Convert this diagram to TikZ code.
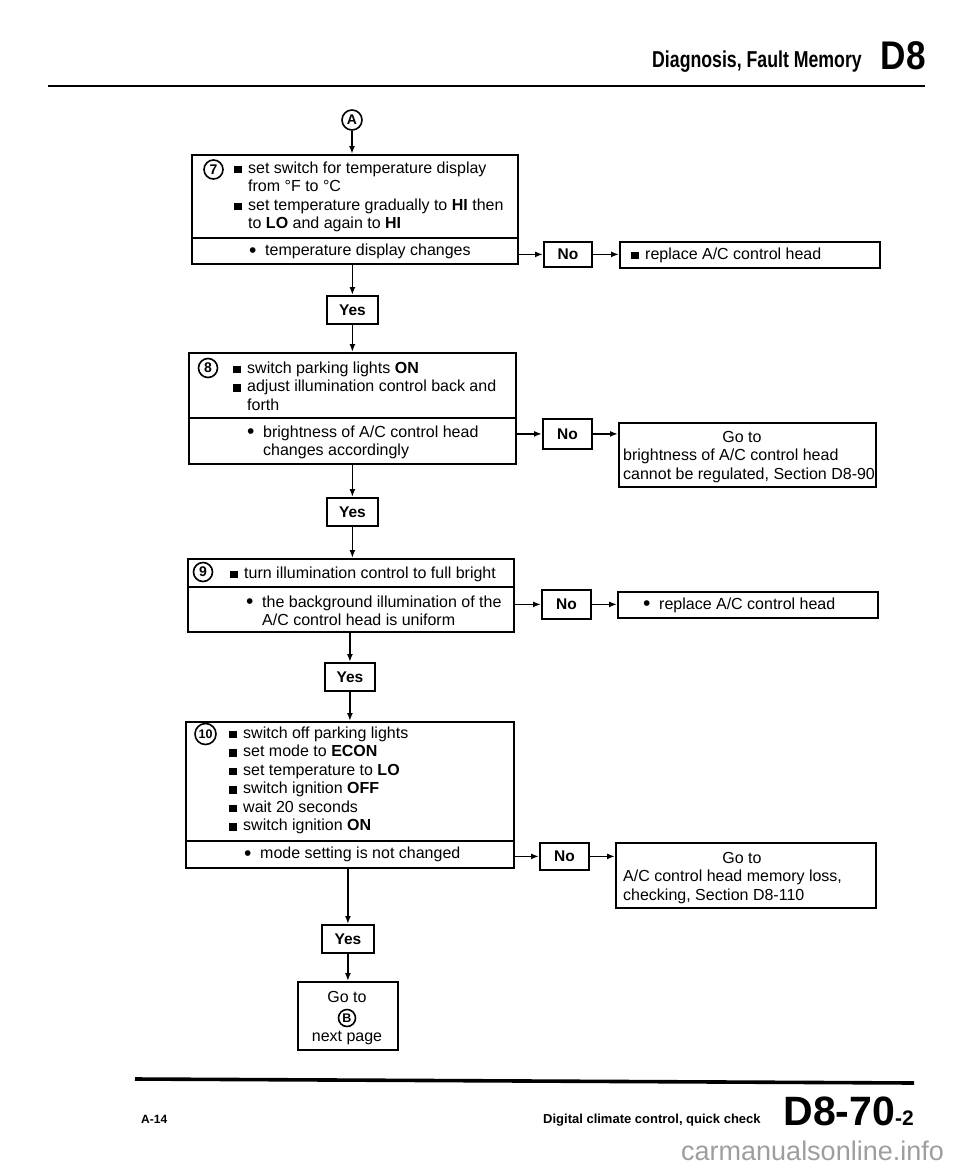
\documentclass[tikz,border=0pt]{standalone}
\usepackage{fontspec}
\setmainfont{Liberation Sans}
\usetikzlibrary{arrows.meta}
\newcommand\bodyfnt{\fontsize{16}{18.5}\selectfont}
\newcommand\sqb{\rule[0pt]{7.5pt}{7.5pt}}
\newcommand\sqitem{\makebox[14pt][l]{\sqb}}
\newcommand\rditem{\makebox[16pt][l]{\raisebox{-1.6pt}{\fontsize{21}{18}\selectfont•}}}
\begin{document}
\begin{tikzpicture}[x=1pt,y=-1pt,
  box/.style={draw, line width=1.8pt, inner sep=0pt, anchor=north west},
  ln/.style={anchor=base west, inner sep=0pt, font=\bodyfnt},
  cln/.style={anchor=base, inner sep=0pt, font=\bodyfnt},
  yn/.style={draw, line width=1.8pt, inner sep=0pt, font=\fontsize{15.5}{18}\selectfont\bfseries},
  num/.style={draw, circle, line width=1.6pt, inner sep=0pt, minimum size=19pt, font=\fontsize{14}{15}\selectfont\bfseries},
  arr/.style={line width=1.6pt, -{Latex[length=8pt,width=6pt]}}
]
\useasboundingbox (0,0) rectangle (960,1170);
\fill[white] (0,0) rectangle (960,1170);

% header
\coordinate (hl) at (48,86);
\coordinate (hr) at (925,86);
\draw[line width=2.6pt] (hl) -- (hr);
\node[anchor=base east, inner sep=0pt, font=\fontsize{23}{26}\selectfont\bfseries] (title) at (862,67) {\scalebox{0.77}[1]{Diagnosis, Fault Memory}};
\node[anchor=base east, inner sep=0pt, font=\fontsize{40}{42}\selectfont\bfseries] (d8) at (926,69) {\scalebox{0.88}[1]{D8}};

% start connector A
\node[num, minimum size=20pt, font=\fontsize{14}{15}\selectfont\bfseries] (A) at (352,120) {A};

% ---------- step 7
\node[box, minimum width=326pt, minimum height=83pt] (b7) at (191,154) {};
\node[box, minimum width=326pt, minimum height=26pt] (r7) at (191,237) {};
\node[num] (n7) at (213.5,169.5) {7};
\node[ln] (t7a) at (234,173) {\sqitem set switch for temperature display};
\node[ln] (t7b) at (248,191.5) {from °F to °C};
\node[ln] (t7c) at (234,210) {\sqitem set temperature gradually to \textbf{HI} then};
\node[ln] (t7d) at (248,228.5) {to \textbf{LO} and again to \textbf{HI}};
\node[ln] (t7r) at (249,255.5) {\rditem temperature display changes};

\node[yn, minimum width=48pt, minimum height=25pt, anchor=north west] (no1) at (543,241) {No};
\node[box, minimum width=260pt, minimum height=26pt] (rep1) at (619,241) {};
\node[ln] (rep1t) at (631,259) {\sqitem replace A/C control head};

\node[yn, minimum width=51pt, minimum height=28pt, anchor=north west] (yes1) at (326,295) {Yes};

% ---------- step 8
\node[box, minimum width=327pt, minimum height=65pt] (b8) at (188,352) {};
\node[box, minimum width=327pt, minimum height=46pt] (r8) at (188,417) {};
\node[num] (n8) at (208,368) {8};
\node[ln] (t8a) at (233,373) {\sqitem switch parking lights \textbf{ON}};
\node[ln] (t8b) at (233,391.5) {\sqitem adjust illumination control back and};
\node[ln] (t8c) at (247,410) {forth};
\node[ln] (t8r) at (247,437) {\rditem brightness of A/C control head};
\node[ln] (t8s) at (263,455.5) {changes accordingly};

\node[yn, minimum width=49pt, minimum height=30pt, anchor=north west] (no2) at (542,418) {No};
\node[box, minimum width=257pt, minimum height=64pt] (go1) at (618,422) {};
\node[cln] (go1a) at (742,442) {Go to};
\node[ln] (go1b) at (623,460.5) {brightness of A/C control head};
\node[ln] (go1c) at (623,479) {cannot be regulated, Section D8-90};

\node[yn, minimum width=51pt, minimum height=28pt, anchor=north west] (yes2) at (326,497) {Yes};

% ---------- step 9
\node[box, minimum width=326pt, minimum height=28pt] (b9) at (187,558) {};
\node[box, minimum width=326pt, minimum height=45pt] (r9) at (187,586) {};
\node[num] (n9) at (203,572) {9};
\node[ln] (t9a) at (230,578) {\sqitem turn illumination control to full bright};
\node[ln] (t9r) at (246,607) {\rditem the background illumination of the};
\node[ln] (t9s) at (262,625.5) {A/C control head is uniform};

\node[yn, minimum width=49pt, minimum height=29pt, anchor=north west] (no3) at (541,589) {No};
\node[box, minimum width=260pt, minimum height=26pt] (rep2) at (617,591) {};
\node[ln] (rep2t) at (643,609) {\rditem replace A/C control head};

\node[yn, minimum width=50pt, minimum height=28pt, anchor=north west] (yes3) at (324,662) {Yes};

% ---------- step 10
\node[box, minimum width=328pt, minimum height=119pt] (b10) at (185,721) {};
\node[box, minimum width=328pt, minimum height=27pt] (r10) at (185,840) {};
\node[num, minimum size=21pt, font=\fontsize{12.5}{13}\selectfont\bfseries] (n10) at (205.5,734) {10};
\node[ln] (t10a) at (229,738) {\sqitem switch off parking lights};
\node[ln] (t10b) at (229,756.5) {\sqitem set mode to \textbf{ECON}};
\node[ln] (t10c) at (229,775) {\sqitem set temperature to \textbf{LO}};
\node[ln] (t10d) at (229,793.5) {\sqitem switch ignition \textbf{OFF}};
\node[ln] (t10e) at (229,812) {\sqitem wait 20 seconds};
\node[ln] (t10f) at (229,830.5) {\sqitem switch ignition \textbf{ON}};
\node[ln] (t10r) at (244,858.5) {\rditem mode setting is not changed};

\node[yn, minimum width=49pt, minimum height=27pt, anchor=north west] (no4) at (539,842) {No};
\node[box, minimum width=260pt, minimum height=65pt] (go2) at (615,842) {};
\node[cln] (go2a) at (742,863) {Go to};
\node[ln] (go2b) at (623,881.5) {A/C control head memory loss,};
\node[ln] (go2c) at (623,900) {checking, Section D8-110};

\node[yn, minimum width=52pt, minimum height=28pt, anchor=north west] (yes4) at (321,924) {Yes};

\node[box, minimum width=100pt, minimum height=68pt] (goB) at (297,981) {};
\node[cln] (goBa) at (347,1002) {Go to};
\node[num, minimum size=17pt, font=\fontsize{12.5}{13}\selectfont\bfseries] (B) at (347,1018) {B};
\node[cln] (goBc) at (347,1041.5) {next page};

% ---------- connectors
\draw[arr] (A.south) -- (A.south |- b7.north);
\draw[arr] (yes1.north |- r7.south) -- (yes1.north);
\draw[arr] (yes1.south) -- (yes1.south |- b8.north);
\draw[arr] (yes2.north |- r8.south) -- (yes2.north);
\draw[arr] (yes2.south) -- (yes2.south |- b9.north);
\draw[arr] (yes3.north |- r9.south) -- (yes3.north);
\draw[arr] (yes3.south) -- (yes3.south |- b10.north);
\draw[arr] (yes4.north |- r10.south) -- (yes4.north);
\draw[arr] (yes4.south) -- (yes4.south |- goB.north);

\draw[arr] (no1.west -| r7.east) -- (no1.west);
\draw[arr] (no1.east) -- (no1.east -| rep1.west);
\draw[arr] (no2.west -| r8.east) -- (no2.west);
\draw[arr] (no2.east) -- (no2.east -| go1.west);
\draw[arr] (no3.west -| r9.east) -- (no3.west);
\draw[arr] (no3.east) -- (no3.east -| rep2.west);
\draw[arr] (no4.west -| r10.east) -- (no4.west);
\draw[arr] (no4.east) -- (no4.east -| go2.west);

% footer
\coordinate (fl) at (135,1079);
\coordinate (fr) at (914,1083);
\draw[line width=3.6pt] (fl) -- (fr);
\node[anchor=base west, inner sep=0pt, font=\fontsize{12}{14}\selectfont\bfseries] (pg) at (141,1123) {A-14};
\node[anchor=base west, inner sep=0pt, font=\fontsize{13}{15}\selectfont\bfseries] (ft) at (543,1123) {Digital climate control, quick check};
\node[anchor=base east, inner sep=0pt, font=\fontsize{41}{44}\selectfont\bfseries] (sec) at (914,1125) {D8-70{\fontsize{21}{22}\selectfont-2}};
\node[anchor=base west, inner sep=0pt, text=black!38, font=\fontsize{27}{30}\selectfont] (wm) at (681,1160) {carmanualsonline.info};
\end{tikzpicture}
\end{document}
